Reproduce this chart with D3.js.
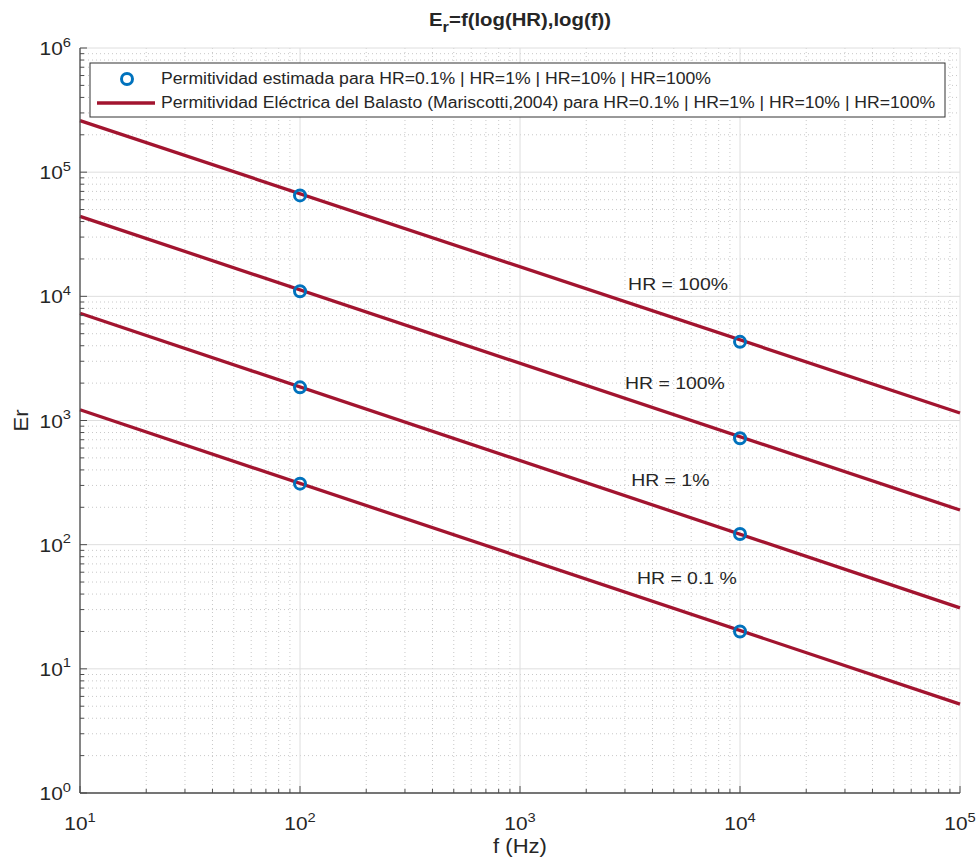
<!DOCTYPE html>
<html lang="es">
<head>
<meta charset="utf-8">
<title>Er = f(log(HR), log(f))</title>
<script src="https://d3js.org/d3.v7.min.js"></script>
<style>
  body { margin: 0; background: #fff; }
  svg text { font-family: "Liberation Sans", Arial, sans-serif; fill: #262626; }
</style>
</head>
<body>
<div id="chart"></div>
<script>
// frequency ends of each fitted line (Hz)
var lineFreq = [10, 1e5];
// Mariscotti (2004) permittivity lines, HR = 100%, 10%, 1%, 0.1%
var lineHR100 = [2.6e5, 1.15e3];
var lineHR10  = [4.4e4, 190];
var lineHR1   = [7.3e3, 31];
var lineHR01  = [1.22e3, 5.2];

// estimated permittivity points
var pointFreq = [100, 1e4];
var estHR100 = [6.5e4, 4.3e3];
var estHR10  = [1.1e4, 720];
var estHR1   = [1.85e3, 122];
var estHR01  = [310, 20];

// labels placed next to the lines
var labelText = ["HR = 100%", "HR = 100%", "HR = 1%", "HR = 0.1 %"];
var labelFreq = [3.1e3, 3.0e3, 3.2e3, 3.4e3];
var labelEr   = [1.25e4, 2.0e3, 3.3e2, 5.4e1];

var xTicks = [1e1, 1e2, 1e3, 1e4, 1e5];
var yTicks = [1e0, 1e1, 1e2, 1e3, 1e4, 1e5, 1e6];

var lines = [lineHR100, lineHR10, lineHR1, lineHR01];
var points = [estHR100, estHR10, estHR1, estHR01];

var W = 976, H = 862;
var margin = {top: 48, right: 16, bottom: 69, left: 80};
var width = W - margin.left - margin.right,
    height = H - margin.top - margin.bottom;

// glyphs are drawn a bit wider than the font's own metrics
var SX = 1.13;
function place(sel, px, py) {
  return sel.attr("transform", function(d, i) {
    var a = typeof px === "function" ? px(d, i) : px;
    var b = typeof py === "function" ? py(d, i) : py;
    return "translate(" + a + "," + b + ") scale(" + SX + ",1)";
  });
}

var svg = d3.select("#chart").append("svg")
    .attr("width", W).attr("height", H);
var g = svg.append("g")
    .attr("transform", "translate(" + margin.left + "," + margin.top + ")");

var x = d3.scaleLog().domain([1e1, 1e5]).range([0, width]);
var y = d3.scaleLog().domain([1e0, 1e6]).range([height, 0]);

// minor ticks 2..9 in every decade
function minors(dom) {
  var out = [];
  for (var e = Math.log10(dom[0]); e < Math.log10(dom[1]); e++)
    for (var k = 2; k <= 9; k++) out.push(k * Math.pow(10, e));
  return out;
}
var xMinor = minors(x.domain()), yMinor = minors(y.domain());

// grid
var grid = g.append("g");
grid.selectAll(".xm").data(xMinor).enter().append("line")
  .attr("x1", x).attr("x2", x).attr("y1", 0).attr("y2", height)
  .attr("stroke", "#c8c8c8").attr("stroke-width", 1).attr("stroke-dasharray", "1,3");
grid.selectAll(".ym").data(yMinor).enter().append("line")
  .attr("y1", y).attr("y2", y).attr("x1", 0).attr("x2", width)
  .attr("stroke", "#c8c8c8").attr("stroke-width", 1).attr("stroke-dasharray", "1,3");
grid.selectAll(".xM").data(xTicks).enter().append("line")
  .attr("x1", x).attr("x2", x).attr("y1", 0).attr("y2", height)
  .attr("stroke", "#dedede").attr("stroke-width", 1);
grid.selectAll(".yM").data(yTicks).enter().append("line")
  .attr("y1", y).attr("y2", y).attr("x1", 0).attr("x2", width)
  .attr("stroke", "#dedede").attr("stroke-width", 1);

// fitted lines
var lineGen = d3.line()
  .x(function(d, i) { return x(lineFreq[i]); })
  .y(function(d) { return y(d); });
g.selectAll(".fit").data(lines).enter().append("path")
  .attr("d", lineGen)
  .attr("fill", "none").attr("stroke", "#A2142F").attr("stroke-width", 3.3);

// estimated points
points.forEach(function(s) {
  g.selectAll(null).data(s).enter().append("circle")
    .attr("cx", function(d, i) { return x(pointFreq[i]); })
    .attr("cy", function(d) { return y(d); })
    .attr("r", 5.5).attr("fill", "none")
    .attr("stroke", "#0072BD").attr("stroke-width", 3);
});

// line labels
place(g.selectAll(".lab").data(labelText).enter().append("text"),
      function(d, i) { return x(labelFreq[i]); },
      function(d, i) { return y(labelEr[i]); })
  .attr("dy", "0.35em")
  .style("font-size", "17.2px")
  .text(function(d) { return d; });

// axes (left + bottom only), ticks pointing inward
var axisColor = "#4d4d4d";
var xAxis = g.append("g").attr("transform", "translate(0," + height + ")");
xAxis.append("line").attr("x1", 0).attr("x2", width).attr("stroke", axisColor).attr("stroke-width", 1.3);
xAxis.selectAll(".t").data(xTicks).enter().append("line")
  .attr("x1", x).attr("x2", x).attr("y1", 0).attr("y2", -7).attr("stroke", axisColor);
xAxis.selectAll(".tm").data(xMinor).enter().append("line")
  .attr("x1", x).attr("x2", x).attr("y1", 0).attr("y2", -4).attr("stroke", axisColor);
var xl = place(xAxis.selectAll(".tl").data(xTicks).enter().append("text"), x, 37)
  .attr("text-anchor", "middle")
  .style("font-size", "18.5px");
xl.append("tspan").text("10");
xl.append("tspan").attr("dy", -8.5).style("font-size", "13px")
  .text(function(d) { return Math.round(Math.log10(d)); });

var yAxis = g.append("g");
yAxis.append("line").attr("y1", 0).attr("y2", height).attr("stroke", axisColor).attr("stroke-width", 1.3);
yAxis.selectAll(".t").data(yTicks).enter().append("line")
  .attr("y1", y).attr("y2", y).attr("x1", 0).attr("x2", 7).attr("stroke", axisColor);
yAxis.selectAll(".tm").data(yMinor).enter().append("line")
  .attr("y1", y).attr("y2", y).attr("x1", 0).attr("x2", 4).attr("stroke", axisColor);
var yl = place(yAxis.selectAll(".tl").data(yTicks).enter().append("text"),
      -9, function(d) { return y(d) + 7; })
  .attr("text-anchor", "end")
  .style("font-size", "18.5px");
yl.append("tspan").text("10");
yl.append("tspan").attr("dy", -8.5).style("font-size", "13px")
  .text(function(d) { return Math.round(Math.log10(d)); });

// axis titles
place(g.append("text"), width / 2, height + 60)
  .attr("text-anchor", "middle").style("font-size", "19.5px").text("f (Hz)");
g.append("text").attr("transform", "translate(-52," + (height / 2) + ") rotate(-90) scale(" + SX + ",1)")
  .attr("text-anchor", "middle").style("font-size", "19.5px").text("Er");

// title
var title = place(svg.append("text"), margin.left + width / 2, 26)
  .attr("text-anchor", "middle").style("font-size", "18px").style("font-weight", "bold");
title.append("tspan").text("E");
title.append("tspan").attr("dy", 6).style("font-size", "14.5px").text("r");
title.append("tspan").attr("dy", -6).text("=f(log(HR),log(f))");

// legend
var leg = g.append("g").attr("transform", "translate(10,15)");
leg.append("rect").attr("width", 855).attr("height", 54)
  .attr("fill", "#fff").attr("stroke", "#333").attr("stroke-width", 1);
leg.append("circle").attr("cx", 37).attr("cy", 16).attr("r", 5.5)
  .attr("fill", "none").attr("stroke", "#0072BD").attr("stroke-width", 3);
leg.append("line").attr("x1", 7).attr("x2", 65).attr("y1", 40).attr("y2", 40)
  .attr("stroke", "#A2142F").attr("stroke-width", 3.3);
place(leg.append("text"), 71, 21).style("font-size", "15.6px")
  .text("Permitividad estimada para HR=0.1% | HR=1% | HR=10% | HR=100%");
place(leg.append("text"), 71, 45).style("font-size", "15.6px")
  .text("Permitividad Eléctrica del Balasto (Mariscotti,2004) para HR=0.1% | HR=1% | HR=10% | HR=100%");
</script>
</body>
</html>
